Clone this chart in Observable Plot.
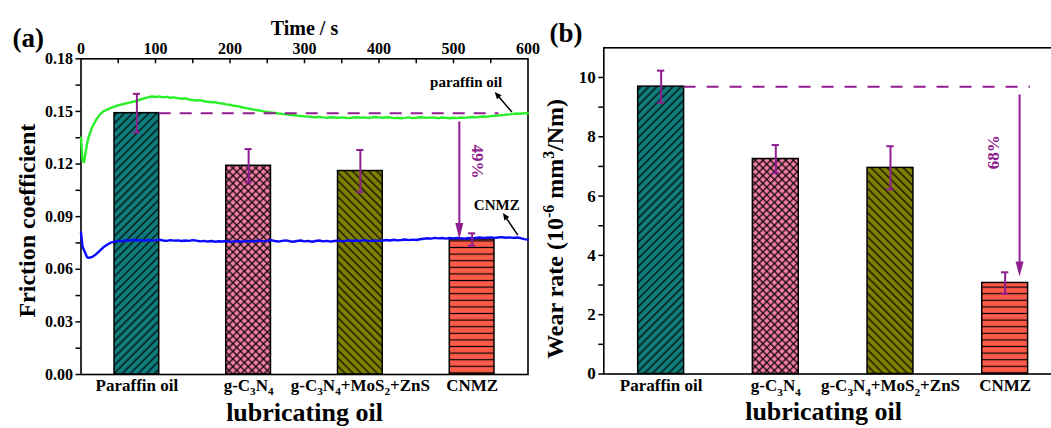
<!DOCTYPE html>
<html><head><meta charset="utf-8">
<script src="https://cdn.jsdelivr.net/npm/d3@7"></script>
<script src="https://cdn.jsdelivr.net/npm/@observablehq/plot@0.6"></script>
<style>
html,body{margin:0;padding:0;background:#fff;overflow:hidden;}
#wrap{position:relative;width:1051px;height:428px;overflow:hidden;background:#fff;}
#wrap svg{position:absolute;top:0;}
</style></head><body><div id="wrap"></div>
<script>
// ---------- data ----------
const categories = ["Paraffin oil", "g-C_{3}N_{4}", "g-C_{3}N_{4}+MoS_{2}+ZnS", "CNMZ"];
const frictionMean = [0.149, 0.119, 0.116, 0.077];
const frictionErr = [0.011, 0.0095, 0.012, 0.0035];
const wearMean = [9.69, 7.25, 6.95, 3.07];
const wearErr = [0.54, 0.47, 0.73, 0.36];
const frictionTicks = [0, 0.03, 0.06, 0.09, 0.12, 0.15, 0.18];
const wearTicks = [0, 2, 4, 6, 8, 10];
const timeTicks = [0, 100, 200, 300, 400, 500, 600];
const timeS = [
  0, 2, 4, 6, 8,
  10, 15, 20, 25, 30, 35, 40, 45, 50, 55,
  60, 65, 70, 75, 80, 85, 90, 95, 100, 105,
  110, 115, 120, 125, 130, 135, 140, 145, 150, 155,
  160, 165, 170, 175, 180, 185, 190, 195, 200, 205,
  210, 215, 220, 225, 230, 235, 240, 245, 250, 255,
  260, 265, 270, 275, 280, 285, 290, 295, 300, 305,
  310, 315, 320, 325, 330, 335, 340, 345, 350, 355,
  360, 365, 370, 375, 380, 385, 390, 395, 400, 405,
  410, 415, 420, 425, 430, 435, 440, 445, 450, 455,
  460, 465, 470, 475, 480, 485, 490, 495, 500, 505,
  510, 515, 520, 525, 530, 535, 540, 545, 550, 555,
  560, 565, 570, 575, 580, 585, 590, 595, 600
];
const paraffinCoF = [
  0.135, 0.122, 0.121, 0.126, 0.131,
  0.135, 0.141, 0.145, 0.148, 0.150, 0.151, 0.152, 0.1528, 0.1535, 0.154,
  0.1545, 0.155, 0.1555, 0.156, 0.1568, 0.1575, 0.158, 0.1585, 0.1582, 0.1586,
  0.158, 0.1583, 0.1578, 0.158, 0.1576, 0.1572, 0.1574, 0.1568, 0.1565, 0.1562,
  0.1564, 0.1558, 0.1555, 0.1552, 0.1553, 0.1547, 0.1545, 0.154, 0.1538, 0.1532,
  0.153, 0.1525, 0.152, 0.1516, 0.1512, 0.1508, 0.1505, 0.150, 0.1497, 0.1494,
  0.1492, 0.1488, 0.1486, 0.1483, 0.148, 0.1478, 0.1476, 0.1474, 0.1472, 0.147,
  0.1468, 0.1467, 0.1469, 0.1466, 0.1464, 0.1467, 0.1465, 0.1463, 0.1466, 0.1464,
  0.1462, 0.1465, 0.1467, 0.1464, 0.1466, 0.1463, 0.1465, 0.1468, 0.1466, 0.1464,
  0.1467, 0.1465, 0.1462, 0.1464, 0.1461, 0.1463, 0.1466, 0.1462, 0.1464, 0.1467,
  0.1465, 0.1463, 0.1466, 0.1464, 0.1462, 0.1465, 0.1463, 0.1461, 0.1464, 0.1462,
  0.1465, 0.1463, 0.1466, 0.1468, 0.1466, 0.1469, 0.1471, 0.147, 0.1473, 0.1475,
  0.1477, 0.1479, 0.1481, 0.1483, 0.1486, 0.1488, 0.1487, 0.149, 0.1489
];
const cnmzCoF = [
  0.081, 0.073, 0.071, 0.069, 0.067,
  0.0665, 0.067, 0.0685, 0.0705, 0.0725, 0.074, 0.0752, 0.0758, 0.0762, 0.076,
  0.0765, 0.0763, 0.0768, 0.0764, 0.0766, 0.0762, 0.0767, 0.0763, 0.0765, 0.0769,
  0.0764, 0.0762, 0.0766, 0.0763, 0.0765, 0.0761, 0.0764, 0.0762, 0.0766, 0.0763,
  0.0759, 0.0762, 0.0758, 0.0761, 0.0757, 0.076, 0.0758, 0.0761, 0.0756, 0.0759,
  0.0761, 0.0757, 0.076, 0.0762, 0.0758, 0.0761, 0.0763, 0.0759, 0.0762, 0.0766,
  0.0761, 0.0758, 0.0762, 0.0765, 0.076, 0.0757, 0.0761, 0.0764, 0.0759, 0.0762,
  0.0757, 0.0761, 0.0764, 0.0759, 0.0762, 0.0758, 0.0761, 0.0763, 0.0759, 0.0762,
  0.0765, 0.0761, 0.0764, 0.0762, 0.0766, 0.0763, 0.0761, 0.0765, 0.0762, 0.0764,
  0.0767, 0.0764, 0.0768, 0.0765, 0.0767, 0.077, 0.0766, 0.0769, 0.0767, 0.0771,
  0.0774, 0.0777, 0.0775, 0.0779, 0.0776, 0.0778, 0.0775, 0.0778, 0.0776, 0.0779,
  0.0777, 0.0775, 0.0778, 0.0776, 0.0779, 0.0781, 0.0778, 0.078, 0.0782, 0.0779,
  0.0781, 0.0783, 0.078, 0.0782, 0.0779, 0.0781, 0.0778, 0.0772, 0.0769
];
const curveLabels = ["paraffin oil", "CNMZ"];
const reductionLabels = ["49%", "68%"];
const axisTitles = ["Time / s", "Friction coefficient", "Wear rate (10^{-6} mm^{3}/Nm)", "lubricating oil"];
const panelTags = ["(a)", "(b)"];

// ---------- styles ----------
const NS = "http://www.w3.org/2000/svg";
const FONT = "'Liberation Serif', 'Times New Roman', serif";
const PURPLE = "#901e90";
const barColors = ["#0f7d7c", "#f27ea4", "#808000", "#ff5b4a"];
const hatchKinds = ["fwd", "cross", "back", "horiz"];
const baseStyle = {fontFamily: FONT, fontWeight: "bold", fontSize: "16px", background: "transparent", overflow: "visible", maxWidth: "none", color: "#000"};
const dimA = {width: 540, height: 428, marginLeft: 80.5, marginRight: 12.5, marginTop: 58.3, marginBottom: 54};
const dimB = {width: 550, height: 428, marginLeft: 73.3, marginRight: 18, marginTop: 47.3, marginBottom: 54.5};
const idx = categories.map((_, i) => i);
const HALF = 0.2;
const minorOf = (t) => d3.pairs(t).map(([a, b]) => (a + b) / 2);
const timeMinor = d3.sort(timeTicks.concat(minorOf(timeTicks))).filter((t) => t > 0 && t < 600);

function patternDefs(p) {
  return () => {
    const defs = document.createElementNS(NS, "defs");
    defs.innerHTML = `
<pattern id="${p}-fwd" patternUnits="userSpaceOnUse" width="5.7" height="5.7" patternTransform="rotate(45)"><line x1="2.85" y1="-1" x2="2.85" y2="6.7" stroke="#000" stroke-width="1.2"/></pattern>
<pattern id="${p}-back" patternUnits="userSpaceOnUse" width="5.7" height="5.7" patternTransform="rotate(-45)"><line x1="2.85" y1="-1" x2="2.85" y2="6.7" stroke="#000" stroke-width="1.2"/></pattern>
<pattern id="${p}-cross" patternUnits="userSpaceOnUse" width="5.4" height="5.4" patternTransform="rotate(45)"><line x1="2.7" y1="-1" x2="2.7" y2="6.4" stroke="#000" stroke-width="1.2"/><line x1="-1" y1="2.7" x2="6.4" y2="2.7" stroke="#000" stroke-width="1.2"/></pattern>
<pattern id="${p}-horiz" patternUnits="userSpaceOnUse" width="10" height="6.6"><line x1="-1" y1="3.3" x2="11" y2="3.3" stroke="#000" stroke-width="1.2"/></pattern>`;
    return defs;
  };
}

function arrowMark(a, s) {
  return (index, scales) => {
    const X1 = scales.x(a.x1), Y1 = scales.y(a.y1), X2 = scales.x(a.x2), Y2 = scales.y(a.y2);
    const dx = X2 - X1, dy = Y2 - Y1, L = Math.hypot(dx, dy), ux = dx / L, uy = dy / L;
    const bx = X2 - ux * s.len, by = Y2 - uy * s.len;
    const g = document.createElementNS(NS, "g");
    g.innerHTML = `<line x1="${X1}" y1="${Y1}" x2="${bx + ux}" y2="${by + uy}" stroke="${s.color}" stroke-width="${s.width}"/>` +
      `<path d="M${X2},${Y2}L${bx - uy * s.half},${by + ux * s.half}L${bx + uy * s.half},${by - ux * s.half}Z" fill="${s.color}"/>`;
    return g;
  };
}

function barsMarks(p, means) {
  return [
    patternDefs(p),
    ...idx.map((i) => Plot.rect([i], {x1: (d) => d - HALF, x2: (d) => d + HALF, y1: 0, y2: (d) => means[d], fill: barColors[i]})),
    ...idx.map((i) => Plot.rect([i], {x1: (d) => d - HALF, x2: (d) => d + HALF, y1: 0, y2: (d) => means[d], fill: `url(#${p}-${hatchKinds[i]})`, stroke: "#000", strokeWidth: 1.5}))
  ];
}

function errorMarks(means, errs) {
  const lo = (d) => means[d] - errs[d], hi = (d) => means[d] + errs[d];
  return [
    Plot.ruleX(idx, {x: (d) => d, y1: lo, y2: hi, stroke: PURPLE, strokeWidth: 2}),
    Plot.ruleY(idx, {x1: (d) => d - 0.032, x2: (d) => d + 0.032, y: hi, stroke: PURPLE, strokeWidth: 2}),
    Plot.ruleY(idx, {x1: (d) => d - 0.032, x2: (d) => d + 0.032, y: lo, stroke: PURPLE, strokeWidth: 2})
  ];
}

const label = (txt, o) => Plot.text([txt], {text: (d) => d, textAnchor: "middle", lineAnchor: "middle", ...o});

// ---------- panel (a): bars + axes ----------
const plotA2 = Plot.plot({
  ...dimA, style: baseStyle,
  x: {domain: [-0.5, 3.5], axis: null},
  y: {domain: [0, 0.18], axis: null},
  marks: [
    ...barsMarks("pa", frictionMean),
    Plot.frame({stroke: "#000", strokeWidth: 1.6}),
    Plot.axisY({ticks: frictionTicks, tickFormat: d3.format(".2f"), tickSize: 5, tickPadding: 3, label: null, fontSize: 16, strokeWidth: 1.5}),
    Plot.axisY({ticks: minorOf(frictionTicks), tickFormat: () => "", tickSize: 5, label: null, strokeWidth: 1.5}),
    Plot.axisX({ticks: idx, tickFormat: (i) => categories[i], tickSize: 0, tickPadding: 4, label: null, fontSize: 17}),
    label(axisTitles[1], {frameAnchor: "left", rotate: -90, dx: -53.5, dy: 4, fontSize: 24}),
    label(axisTitles[3], {frameAnchor: "bottom", dy: 38, fontSize: 26}),
    label(panelTags[0], {frameAnchor: "top-left", textAnchor: "start", dx: -68.5, dy: -20, fontSize: 27})
  ]
});

// ---------- panel (a): time series ----------
const plotA1 = Plot.plot({
  ...dimA, style: baseStyle,
  x: {domain: [0, 600]},
  y: {domain: [0, 0.18], axis: null},
  marks: [
    Plot.line(timeS, {x: timeS, y: paraffinCoF, stroke: "#2bef2b", strokeWidth: 2.4}),
    Plot.line(timeS, {x: timeS, y: cnmzCoF, stroke: "#0a0aff", strokeWidth: 2.4}),
    Plot.axisX({anchor: "top", ticks: timeTicks, tickSize: 0, tickPadding: 5, label: null, fontSize: 16}),
    Plot.ruleX(timeMinor, {x: (d) => d, insetBottom: 428 - 58.3 - 54 - 5, stroke: "#000", strokeWidth: 1.5}),
    label(axisTitles[0], {frameAnchor: "top", dy: -30, fontSize: 20}),
    label(curveLabels[0], {x: 517, y: 0.1665, fontSize: 15}),
    label(curveLabels[1], {x: 558, y: 0.0964, fontSize: 15}),
    arrowMark({x1: 579, y1: 0.1494, x2: 556, y2: 0.1608}, {color: "#000", width: 1.5, len: 7, half: 3}),
    arrowMark({x1: 587, y1: 0.0792, x2: 567, y2: 0.0918}, {color: "#000", width: 1.5, len: 7, half: 3})
  ]
});

// ---------- panel (a): annotations ----------
const plotA3 = Plot.plot({
  ...dimA, style: baseStyle,
  x: {domain: [-0.5, 3.5], axis: null},
  y: {domain: [0, 0.18], axis: null},
  marks: [
    ...errorMarks(frictionMean, frictionErr),
    Plot.ruleY([frictionMean[0]], {x1: HALF, x2: 3.24, stroke: PURPLE, strokeWidth: 2, strokeDasharray: "12,9"}),
    arrowMark({x1: 2.89, y1: frictionMean[0] - 0.005, x2: 2.89, y2: frictionMean[3]}, {color: PURPLE, width: 2, len: 16, half: 4}),
    label(reductionLabels[0], {x: 3.045, y: 0.1214, rotate: 90, fontSize: 17, fill: PURPLE})
  ]
});

// ---------- panel (b) ----------
const plotB = Plot.plot({
  ...dimB, style: baseStyle,
  x: {domain: [-0.5, 3.5], axis: null},
  y: {domain: [0, 11], axis: null},
  marks: [
    ...barsMarks("pb", wearMean),
    Plot.frame({stroke: "#000", strokeWidth: 1.6}),
    Plot.axisY({ticks: wearTicks, tickFormat: (d) => String(d), tickSize: 5, tickPadding: 3, label: null, fontSize: 17, strokeWidth: 1.5}),
    Plot.axisY({ticks: minorOf(wearTicks), tickFormat: () => "", tickSize: 5, label: null, strokeWidth: 1.5}),
    Plot.axisX({ticks: idx, tickFormat: (i) => categories[i], tickSize: 0, tickPadding: 5, label: null, fontSize: 17}),
    label(axisTitles[2], {frameAnchor: "left", rotate: -90, dx: -48.3, dy: 18, fontSize: 24}),
    label(axisTitles[3], {frameAnchor: "bottom", dx: -9.6, dy: 38, fontSize: 26}),
    label(panelTags[1], {frameAnchor: "top-left", textAnchor: "start", dx: -54.3, dy: -14, fontSize: 27}),
    ...errorMarks(wearMean, wearErr),
    Plot.ruleY([wearMean[0]], {x1: HALF, x2: 3.22, stroke: PURPLE, strokeWidth: 2, strokeDasharray: "12,11"}),
    arrowMark({x1: 3.13, y1: wearMean[0] - 0.28, x2: 3.13, y2: wearMean[3] + 0.2}, {color: PURPLE, width: 2, len: 15, half: 4}),
    label(reductionLabels[1], {x: 2.9, y: 7.48, rotate: -90, fontSize: 17, fill: PURPLE})
  ]
});

const wrap = document.getElementById("wrap");
plotA2.style.left = "0px"; plotA1.style.left = "0px"; plotA3.style.left = "0px"; plotB.style.left = "530px";
wrap.append(plotA2, plotA1, plotA3, plotB);

// sub/superscript markup -> tspans
function richText(root) {
  root.querySelectorAll("text").forEach((t) => {
    const s = t.textContent;
    if (!/[_^]\{/.test(s)) return;
    const fs = parseFloat(getComputedStyle(t).fontSize);
    const parts = s.split(/([_^]\{[^}]*\})/).filter((p) => p);
    t.textContent = "";
    let shift = 0;
    for (const p of parts) {
      const ts = document.createElementNS(NS, "tspan");
      let target = 0, txt = p, small = false;
      if (p.startsWith("_{")) { target = 0.28 * fs; txt = p.slice(2, -1); small = true; }
      else if (p.startsWith("^{")) { target = -0.4 * fs; txt = p.slice(2, -1); small = true; }
      if (target - shift !== 0) ts.setAttribute("dy", target - shift);
      shift = target;
      if (small) ts.setAttribute("font-size", (0.66 * fs).toFixed(1));
      ts.textContent = txt;
      t.appendChild(ts);
    }
  });
}
[plotA2, plotA1, plotA3, plotB].forEach(richText);
</script></body></html>
